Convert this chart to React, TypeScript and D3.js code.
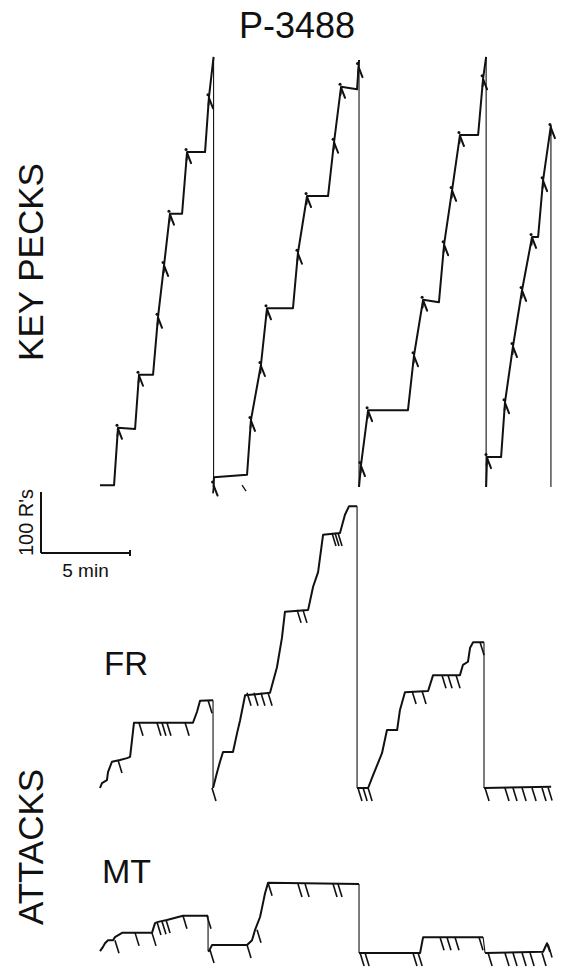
import React from "react";
import * as d3 from "d3";

// time in minutes, cumulative counts in responses (pen units)
const TITLE = "P-3488";

const KP_RECORDS: [number, number][][] = [
  [[0,3],[0.79,3],[1.01,97],[1.97,95],[2.19,184],[2.98,184],[3.26,279],[3.60,364],[3.93,448],[4.61,448],[4.89,549],[5.90,549],[6.12,639],[6.38,705]],
  [[6.38,0],[6.40,16],[8.26,20],[8.48,110],[9.04,200],[9.38,293],[10.84,293],[11.12,384],[11.63,477],[12.81,477],[13.15,566],[13.54,656],[14.44,652],[14.55,700]],
  [[14.55,0],[14.66,36],[15.06,126],[17.30,126],[17.64,216],[18.15,307],[19.04,303],[19.33,398],[19.78,487],[20.22,577],[21.24,577],[21.52,670],[21.69,705]],
  [[21.69,0],[21.74,49],[22.53,49],[22.75,139],[23.20,231],[23.71,323],[24.27,410],[24.61,410],[24.89,503],[25.33,593]],
];
const KP_FINAL_RESET: [number, number] = [25.33, 0];

const KP_REINF: [number, number][] = [
  [1.01,97],[2.19,184],[3.26,279],[3.60,364],[3.93,448],[4.89,549],[6.12,639],[6.38,4],
  [8.48,110],[9.04,200],[9.38,293],[11.12,384],[11.63,477],[13.15,566],[13.54,656],[14.52,690],
  [14.66,36],[15.06,126],[17.64,216],[18.15,307],[19.33,398],[19.78,487],[20.22,577],[21.52,670],
  [21.74,49],[22.75,139],[23.20,231],[23.71,323],[24.27,410],[24.89,503],[25.33,590],
];
const KP_STRAY: [number, number][] = [[7.98,3]];

const FR_RECORDS: [number, number][][] = [
  [[0,0],[0.11,8],[0.39,13],[0.45,26],[0.67,43],[1.12,46],[1.52,49],[1.69,51],[1.80,79],[1.91,107],[5.22,107],[5.45,125],[5.62,143],[6.35,144]],
  [[6.35,0],[6.57,25],[6.74,43],[6.91,59],[7.47,59],[7.70,90],[7.87,111],[8.15,152],[9.55,156],[9.94,198],[10.22,246],[10.39,289],[11.69,292],[11.97,330],[12.25,354],[12.53,415],[13.48,418],[13.76,448],[13.99,462],[14.44,462]],
  [[14.44,0],[15.06,0],[15.34,21],[15.62,41],[15.84,57],[16.12,95],[16.69,95],[16.85,128],[17.13,157],[18.43,159],[18.71,185],[20.22,185],[20.39,202],[20.67,207],[20.79,230],[20.96,239],[21.57,239]],
  [[21.57,0],[25.34,2]],
];
const FR_TICKS: [number, number][] = [
  [1.01,46],[2.19,107],[3.20,107],[3.48,107],[3.76,107],[4.78,107],[6.07,144],
  [6.29,0],[8.26,156],[8.65,156],[9.04,156],[9.44,156],[11.07,292],[11.40,292],[13.03,418],[13.20,418],[13.37,418],
  [14.49,0],[14.78,0],[15.06,0],[17.53,159],[18.09,159],[19.21,185],[19.55,185],[20.00,185],[21.35,239],
  [21.63,0],[22.75,0],[23.20,0],[23.71,0],[24.27,0],[24.83,0],[25.17,1],
];

const MT_RECORDS: [number, number][][] = [
  [[0,3],[0.17,10],[0.28,16],[0.45,21],[0.73,21],[0.84,26],[1.24,33],[2.92,33],[3.09,49],[3.26,51],[3.76,54],[4.66,61],[6.07,61]],
  [[6.07,5],[6.12,3],[6.29,13],[8.26,13],[8.54,21],[8.71,38],[8.99,59],[9.10,74],[9.27,98],[9.44,115],[14.55,113]],
  [[14.55,0],[17.98,0],[18.15,26],[21.52,26]],
  [[21.63,0],[24.89,2],[25.11,16],[25.28,2]],
];
const MT_TICKS: [number, number][] = [
  [0.84,21],[1.97,33],[2.92,33],[3.20,51],[3.48,52],[3.71,54],[4.66,61],[6.01,61],
  [6.18,5],[8.26,13],[8.82,38],[9.44,115],[11.12,113],[11.52,113],[13.09,113],[13.37,113],
  [14.61,0],[14.89,0],[17.58,0],[17.87,0],[19.10,26],[19.49,26],[19.94,26],[21.29,26],
  [21.80,0],[22.75,0],[23.20,0],[23.71,0],[24.16,0],[24.83,0],[25.17,14],
];

const SCALE_MIN = 5;
const SCALE_RESP = 100;

export default function App() {
  const W = 562, H = 968;
  const x = d3.scaleLinear().domain([0, 25.39]).range([100, 552]);
  const yKP = d3.scaleLinear().domain([0, 700]).range([487, 60]);
  const yFR = d3.scaleLinear().domain([0, 700]).range([788, 361]);
  const yMT = d3.scaleLinear().domain([0, 700]).range([953, 526]);
  const font = "'Liberation Sans', Arial, sans-serif";

  const mk = (ys: d3.ScaleLinear<number, number>) =>
    d3.line<[number, number]>().x(d => x(d[0])).y(d => ys(d[1]));

  const resets = (recs: [number, number][][], ys: d3.ScaleLinear<number, number>, final?: [number, number]) => {
    const out: JSX.Element[] = [];
    for (let i = 0; i < recs.length; i++) {
      const last = recs[i][recs[i].length - 1];
      const next = i + 1 < recs.length ? recs[i + 1][0] : final;
      if (!next) continue;
      out.push(<line key={i} x1={x(last[0])} y1={ys(last[1])} x2={x(next[0])} y2={ys(next[1])} stroke="#111" strokeWidth={1.1} />);
    }
    return out;
  };

  const ticks = (pts: [number, number][], ys: d3.ScaleLinear<number, number>) =>
    pts.map((p, i) => {
      const px = x(p[0]), py = ys(p[1]);
      return <line key={i} x1={px} y1={py} x2={px + 4} y2={py + 13} stroke="#111" strokeWidth={1.6} />;
    });

  const lKP = mk(yKP), lFR = mk(yFR), lMT = mk(yMT);
  const barX0 = 41;
  const barY0 = 553;
  const barW = x(SCALE_MIN) - x(0);
  const barH = yKP(0) - yKP(SCALE_RESP);

  return (
    <svg width={W} height={H} style={{ position: "absolute", left: 0, top: 0, background: "#fff" }}>
      <rect width={W} height={H} fill="#fff" />
      <text x={297} y={38} textAnchor="middle" fontFamily={font} fontSize={36} fill="#111">{TITLE}</text>
      <text transform="translate(43,262) rotate(-90)" textAnchor="middle" fontFamily={font} fontSize={35} fill="#111">KEY PECKS</text>
      <text transform="translate(43,847) rotate(-90)" textAnchor="middle" fontFamily={font} fontSize={35} fill="#111">ATTACKS</text>
      <text x={104} y={675} fontFamily={font} fontSize={33} fill="#111">FR</text>
      <text x={102} y={883} fontFamily={font} fontSize={34} fill="#111">MT</text>

      {/* scale bar */}
      <g stroke="#111" strokeWidth={2} fill="none">
        <line x1={barX0} y1={barY0} x2={barX0} y2={barY0 - barH} />
        <line x1={barX0} y1={barY0} x2={barX0 + barW} y2={barY0} />
        <line x1={barX0 + barW} y1={barY0 - 3} x2={barX0 + barW} y2={barY0 + 3} />
      </g>
      <text transform={`translate(33,${barY0 - barH / 2}) rotate(-90)`} textAnchor="middle" fontFamily={font} fontSize={20} fill="#111">100 R's</text>
      <text x={barX0 + barW / 2} y={577} textAnchor="middle" fontFamily={font} fontSize={19} fill="#111">5 min</text>

      {/* key pecks */}
      <g fill="none" stroke="#111" strokeWidth={2} strokeLinejoin="round">
        {KP_RECORDS.map((r, i) => <path key={i} d={lKP(r) || ""} />)}
      </g>
      {resets(KP_RECORDS, yKP, KP_FINAL_RESET)}
      {KP_REINF.map((p, i) => {
        const px = x(p[0]), py = yKP(p[1]);
        return (
          <g key={i} stroke="#111" strokeLinecap="round">
            <circle cx={px - 1} cy={py - 2.5} r={1.5} fill="#111" stroke="none" />
            <line x1={px + 0.5} y1={py + 2} x2={px + 4} y2={py + 11} strokeWidth={2} />
            <line x1={px + 0.3} y1={py + 1} x2={px - 0.5} y2={py + 8} strokeWidth={1.8} />
          </g>
        );
      })}
      {KP_STRAY.map((p, i) => (
        <line key={i} x1={x(p[0])} y1={yKP(p[1])} x2={x(p[0]) + 4} y2={yKP(p[1]) + 6} stroke="#111" strokeWidth={1.3} />
      ))}

      {/* FR attacks */}
      <g fill="none" stroke="#111" strokeWidth={2} strokeLinejoin="round">
        {FR_RECORDS.map((r, i) => <path key={i} d={lFR(r) || ""} />)}
      </g>
      {resets(FR_RECORDS, yFR)}
      {ticks(FR_TICKS, yFR)}

      {/* MT attacks */}
      <g fill="none" stroke="#111" strokeWidth={2} strokeLinejoin="round">
        {MT_RECORDS.map((r, i) => <path key={i} d={lMT(r) || ""} />)}
      </g>
      {resets(MT_RECORDS, yMT)}
      {ticks(MT_TICKS, yMT)}
    </svg>
  );
}
